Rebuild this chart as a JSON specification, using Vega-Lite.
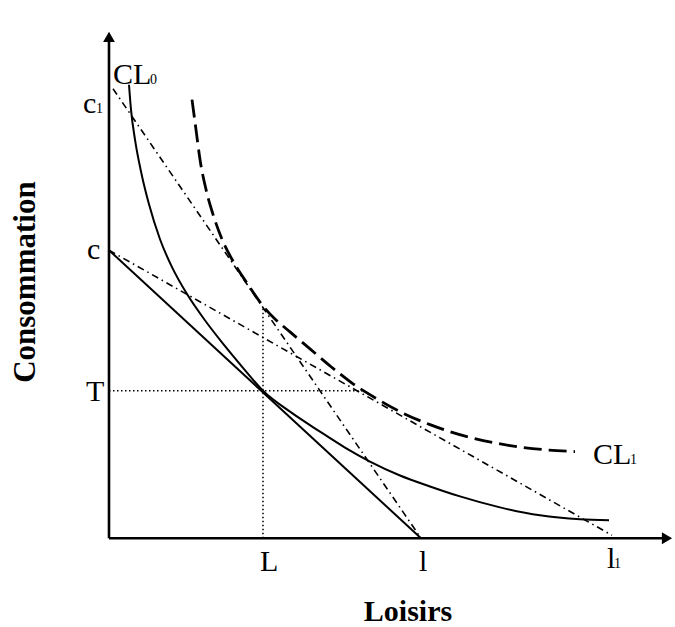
{
  "$schema": "https://vega.github.io/schema/vega-lite/v6.json",
  "width": 675,
  "height": 627,
  "padding": 0,
  "autosize": {"type": "fit", "contains": "padding"},
  "config": {"view": {"stroke": null}},
  "background": "white",
  "datasets": {
    "segments": [
      {"name": "yaxis", "x": 0, "y": 0, "x2": 0, "y2": 503},
      {"name": "xaxis", "x": 0, "y": 0, "x2": 558, "y2": 0},
      {"name": "budget", "x": 0, "y": 289, "x2": 312, "y2": 0},
      {"name": "c1_l", "x": 4, "y": 451, "x2": 310, "y2": 3},
      {"name": "c_l1", "x": 0, "y": 289, "x2": 503, "y2": 3},
      {"name": "T_dot", "x": 0, "y": 148, "x2": 253, "y2": 148},
      {"name": "L_dot", "x": 154, "y": 0, "x2": 154, "y2": 232}
    ],
    "arrows": [
      {"dir": "up", "x": 0, "y": 503},
      {"dir": "right", "x": 558, "y": 0}
    ],
    "curves": [
      {"curve": "CL0", "x": 20, "y": 455},
      {"curve": "CL0", "x": 22, "y": 430},
      {"curve": "CL0", "x": 26, "y": 400},
      {"curve": "CL0", "x": 32, "y": 368},
      {"curve": "CL0", "x": 40, "y": 335},
      {"curve": "CL0", "x": 51, "y": 300},
      {"curve": "CL0", "x": 63, "y": 272},
      {"curve": "CL0", "x": 78, "y": 245},
      {"curve": "CL0", "x": 95, "y": 220},
      {"curve": "CL0", "x": 115, "y": 194},
      {"curve": "CL0", "x": 134, "y": 171},
      {"curve": "CL0", "x": 154, "y": 148},
      {"curve": "CL0", "x": 181, "y": 127},
      {"curve": "CL0", "x": 211, "y": 107},
      {"curve": "CL0", "x": 236, "y": 91},
      {"curve": "CL0", "x": 261, "y": 77},
      {"curve": "CL0", "x": 291, "y": 63},
      {"curve": "CL0", "x": 321, "y": 52},
      {"curve": "CL0", "x": 351, "y": 42},
      {"curve": "CL0", "x": 391, "y": 31},
      {"curve": "CL0", "x": 431, "y": 23},
      {"curve": "CL0", "x": 471, "y": 19},
      {"curve": "CL0", "x": 500, "y": 18},
      {"curve": "CL1", "x": 83, "y": 440},
      {"curve": "CL1", "x": 87, "y": 410},
      {"curve": "CL1", "x": 91, "y": 380},
      {"curve": "CL1", "x": 97, "y": 350},
      {"curve": "CL1", "x": 104, "y": 325},
      {"curve": "CL1", "x": 113, "y": 300},
      {"curve": "CL1", "x": 124, "y": 278},
      {"curve": "CL1", "x": 138, "y": 256},
      {"curve": "CL1", "x": 154, "y": 233},
      {"curve": "CL1", "x": 166, "y": 220},
      {"curve": "CL1", "x": 181, "y": 207},
      {"curve": "CL1", "x": 201, "y": 190},
      {"curve": "CL1", "x": 221, "y": 173},
      {"curve": "CL1", "x": 244, "y": 155},
      {"curve": "CL1", "x": 266, "y": 141},
      {"curve": "CL1", "x": 291, "y": 127},
      {"curve": "CL1", "x": 321, "y": 114},
      {"curve": "CL1", "x": 358, "y": 102},
      {"curve": "CL1", "x": 401, "y": 93},
      {"curve": "CL1", "x": 434, "y": 89},
      {"curve": "CL1", "x": 466, "y": 87}
    ],
    "labels": [
      {"t": "CL", "x": 4, "y": 456},
      {"t": "CL", "x": 484, "y": 75},
      {"t": "c", "x": -26, "y": 427},
      {"t": "c", "x": -22, "y": 280},
      {"t": "T", "x": -23, "y": 138},
      {"t": "L", "x": 151, "y": -33},
      {"t": "l", "x": 310, "y": -33},
      {"t": "l", "x": 498, "y": -30}
    ],
    "subs": [
      {"t": "0", "x": 41, "y": 456},
      {"t": "1", "x": 521, "y": 75},
      {"t": "1", "x": -13, "y": 427},
      {"t": "1", "x": 505, "y": -30}
    ],
    "titles": [
      {"t": "Loisirs", "x": 299, "y": -83, "dir": "h"},
      {"t": "Consommation", "x": -83, "y": 257, "dir": "v"}
    ]
  },
  "layer": [
    {
      "data": {"name": "segments"},
      "transform": [{"filter": "datum.name === 'yaxis' || datum.name === 'xaxis'"}],
      "mark": {"type": "rule", "color": "black", "strokeWidth": 2.6},
      "encoding": {
        "x": {"field": "x", "type": "quantitative", "scale": {"domain": [-109, 566], "nice": false, "zero": false}, "axis": null},
        "y": {"field": "y", "type": "quantitative", "scale": {"domain": [-87, 540], "nice": false, "zero": false}, "axis": null},
        "x2": {"field": "x2"},
        "y2": {"field": "y2"}
      }
    },
    {
      "data": {"name": "segments"},
      "transform": [{"filter": "datum.name === 'budget'"}],
      "mark": {"type": "rule", "color": "black", "strokeWidth": 2},
      "encoding": {
        "x": {"field": "x", "type": "quantitative", "scale": {"domain": [-109, 566], "nice": false, "zero": false}, "axis": null},
        "y": {"field": "y", "type": "quantitative", "scale": {"domain": [-87, 540], "nice": false, "zero": false}, "axis": null},
        "x2": {"field": "x2"},
        "y2": {"field": "y2"}
      }
    },
    {
      "data": {"name": "segments"},
      "transform": [{"filter": "datum.name === 'c1_l' || datum.name === 'c_l1'"}],
      "mark": {"type": "rule", "color": "black", "strokeWidth": 1.6, "strokeDash": [7, 4, 1.5, 4]},
      "encoding": {
        "x": {"field": "x", "type": "quantitative", "scale": {"domain": [-109, 566], "nice": false, "zero": false}, "axis": null},
        "y": {"field": "y", "type": "quantitative", "scale": {"domain": [-87, 540], "nice": false, "zero": false}, "axis": null},
        "x2": {"field": "x2"},
        "y2": {"field": "y2"}
      }
    },
    {
      "data": {"name": "segments"},
      "transform": [{"filter": "datum.name === 'T_dot' || datum.name === 'L_dot'"}],
      "mark": {"type": "rule", "color": "black", "strokeWidth": 1.5, "strokeDash": [1.5, 2.5]},
      "encoding": {
        "x": {"field": "x", "type": "quantitative", "scale": {"domain": [-109, 566], "nice": false, "zero": false}, "axis": null},
        "y": {"field": "y", "type": "quantitative", "scale": {"domain": [-87, 540], "nice": false, "zero": false}, "axis": null},
        "x2": {"field": "x2"},
        "y2": {"field": "y2"}
      }
    },
    {
      "data": {"name": "curves"},
      "transform": [{"filter": "datum.curve === 'CL0'"}],
      "mark": {"type": "line", "color": "black", "strokeWidth": 2, "interpolate": "monotone"},
      "encoding": {
        "x": {"field": "x", "type": "quantitative", "scale": {"domain": [-109, 566], "nice": false, "zero": false}, "axis": null},
        "y": {"field": "y", "type": "quantitative", "scale": {"domain": [-87, 540], "nice": false, "zero": false}, "axis": null},
        "order": {"field": "x", "type": "quantitative"}
      }
    },
    {
      "data": {"name": "curves"},
      "transform": [{"filter": "datum.curve === 'CL1'"}],
      "mark": {"type": "line", "color": "black", "strokeWidth": 2.8, "strokeDash": [18, 7], "interpolate": "monotone"},
      "encoding": {
        "x": {"field": "x", "type": "quantitative", "scale": {"domain": [-109, 566], "nice": false, "zero": false}, "axis": null},
        "y": {"field": "y", "type": "quantitative", "scale": {"domain": [-87, 540], "nice": false, "zero": false}, "axis": null},
        "order": {"field": "x", "type": "quantitative"}
      }
    },
    {
      "data": {"name": "arrows"},
      "mark": {"type": "point", "filled": true, "color": "black", "opacity": 1, "size": 140},
      "encoding": {
        "x": {"field": "x", "type": "quantitative", "scale": {"domain": [-109, 566], "nice": false, "zero": false}, "axis": null},
        "y": {"field": "y", "type": "quantitative", "scale": {"domain": [-87, 540], "nice": false, "zero": false}, "axis": null},
        "shape": {"field": "dir", "type": "nominal", "scale": {"domain": ["up", "right"], "range": ["triangle-up", "triangle-right"]}, "legend": null}
      }
    },
    {
      "data": {"name": "labels"},
      "mark": {"type": "text", "font": "Liberation Serif", "fontSize": 30, "align": "left", "baseline": "alphabetic", "color": "black"},
      "encoding": {
        "x": {"field": "x", "type": "quantitative", "scale": {"domain": [-109, 566], "nice": false, "zero": false}, "axis": null},
        "y": {"field": "y", "type": "quantitative", "scale": {"domain": [-87, 540], "nice": false, "zero": false}, "axis": null},
        "text": {"field": "t"}
      }
    },
    {
      "data": {"name": "subs"},
      "mark": {"type": "text", "font": "Liberation Serif", "fontSize": 14, "align": "left", "baseline": "alphabetic", "color": "black"},
      "encoding": {
        "x": {"field": "x", "type": "quantitative", "scale": {"domain": [-109, 566], "nice": false, "zero": false}, "axis": null},
        "y": {"field": "y", "type": "quantitative", "scale": {"domain": [-87, 540], "nice": false, "zero": false}, "axis": null},
        "text": {"field": "t"}
      }
    },
    {
      "data": {"name": "titles"},
      "transform": [{"filter": "datum.dir === 'h'"}],
      "mark": {"type": "text", "font": "Liberation Serif", "fontSize": 30, "fontWeight": "bold", "align": "center", "baseline": "alphabetic", "color": "black"},
      "encoding": {
        "x": {"field": "x", "type": "quantitative", "scale": {"domain": [-109, 566], "nice": false, "zero": false}, "axis": null},
        "y": {"field": "y", "type": "quantitative", "scale": {"domain": [-87, 540], "nice": false, "zero": false}, "axis": null},
        "text": {"field": "t"}
      }
    },
    {
      "data": {"name": "titles"},
      "transform": [{"filter": "datum.dir === 'v'"}],
      "mark": {"type": "text", "font": "Liberation Serif", "fontSize": 31, "fontWeight": "bold", "align": "center", "baseline": "middle", "angle": 270, "color": "black"},
      "encoding": {
        "x": {"field": "x", "type": "quantitative", "scale": {"domain": [-109, 566], "nice": false, "zero": false}, "axis": null},
        "y": {"field": "y", "type": "quantitative", "scale": {"domain": [-87, 540], "nice": false, "zero": false}, "axis": null},
        "text": {"field": "t"}
      }
    }
  ]
}
